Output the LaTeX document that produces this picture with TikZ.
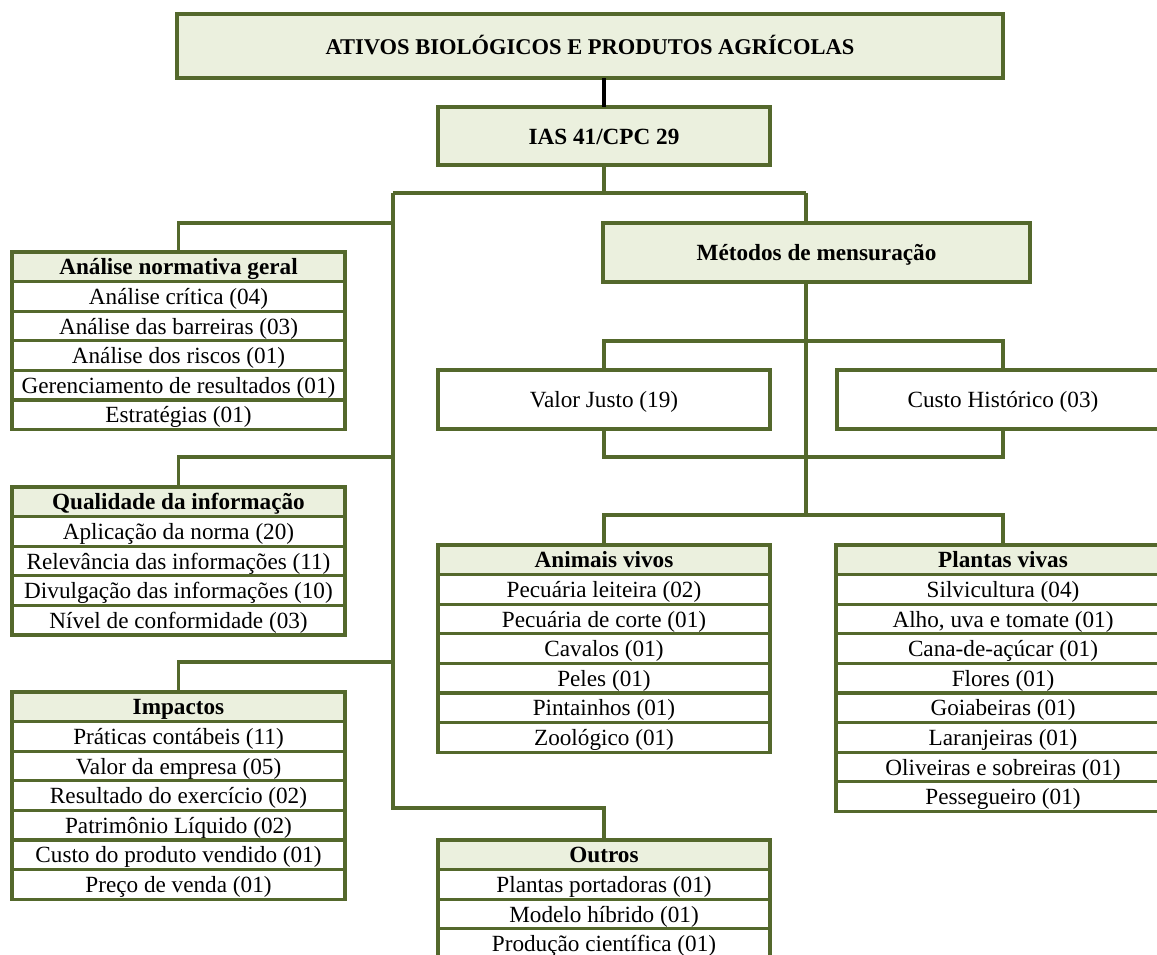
\documentclass[tikz,border=0pt]{standalone}
\usepackage{fontspec}
\setmainfont{Liberation Serif}
\definecolor{og}{RGB}{84,104,44}
\definecolor{hfill}{RGB}{235,240,222}
\newcommand\mylist[6]{%
  \node[hdr, minimum width=#4pt, anchor=north west] (#1h) at (#2,#3) {#5};
  \foreach \t [count=\i] in {#6}
    \node[row, minimum width=#4pt, anchor=north west] (#1\i) at (#2,{#3+\i*29.6}) {\t};
}
\begin{document}
\begin{tikzpicture}[x=1pt,y=-1pt,
  every node/.style={font=\fontsize{23.2}{27}\selectfont, text=black, inner sep=0pt, outer sep=0pt, text height=18.5pt, text depth=2.5pt},
  box/.style={draw=og, line width=3.2pt, fill=hfill, font=\fontsize{23.2}{27}\selectfont\bfseries},
  wbox/.style={draw=og, line width=3.2pt, fill=white},
  hdr/.style={draw=og, line width=3.2pt, fill=hfill, minimum height=29.6pt, font=\fontsize{23.2}{27}\selectfont\bfseries},
  row/.style={draw=og, line width=3.2pt, fill=white, minimum height=29.6pt},
  conn/.style={draw=og, line width=3.2pt},
]
\useasboundingbox (0,0) rectangle (1157,954);
\clip (0,0) rectangle (1157,954);

% top boxes
\node[box, minimum width=826pt, minimum height=64pt, anchor=north west, font=\fontsize{22.5}{27}\selectfont\bfseries] (top) at (177,14) {ATIVOS BIOLÓGICOS E PRODUTOS AGRÍCOLAS};
\node[box, minimum width=332pt, minimum height=58pt, anchor=north west] (ias) at (438,107) {IAS 41/CPC 29};
\node[box, minimum width=427pt, minimum height=59pt, anchor=north west] (met) at (603,223) {Métodos de mensuração};
\node[wbox, minimum width=332pt, minimum height=59pt, anchor=north west] (valor) at (438,370) {Valor Justo (19)};
\node[wbox, minimum width=332pt, minimum height=59pt, anchor=north west] (custo) at (837,370) {Custo Histórico (03)};

% lists
\mylist{an}{12}{252}{333}{Análise normativa geral}{Análise crítica (04),Análise das barreiras (03),Análise dos riscos (01),Gerenciamento de resultados (01),Estratégias (01)}
\mylist{qu}{12}{487}{333}{Qualidade da informação}{Aplicação da norma (20),Relevância das informações (11),Divulgação das informações (10),Nível de conformidade (03)}
\mylist{im}{12}{692}{333}{Impactos}{Práticas contábeis (11),Valor da empresa (05),Resultado do exercício (02),Patrimônio Líquido (02),Custo do produto vendido (01),Preço de venda (01)}
\mylist{av}{438}{545}{332}{Animais vivos}{Pecuária leiteira (02),Pecuária de corte (01),Cavalos (01),Peles (01),Pintainhos (01),Zoológico (01)}
\mylist{pv}{836}{545}{334}{Plantas vivas}{Silvicultura (04),{Alho, uva e tomate (01)},Cana-de-açúcar (01),Flores (01),Goiabeiras (01),Laranjeiras (01),Oliveiras e sobreiras (01),Pessegueiro (01)}
\mylist{ou}{438}{840}{332}{Outros}{Plantas portadoras (01),Modelo híbrido (01),Produção científica (01)}

% connectors
\coordinate (jL) at (393,193);
\coordinate (jR) at (806,193);
\coordinate (jO) at (393,808);
\draw[line width=3.2pt, black] (ias.north |- top.south) -- (ias.north);
\draw[conn] (ias.south) -- (ias.south |- jL);
\draw[conn] (jL) -- (jR);
\draw[conn] (jR) -- (jR |- met.north);
\draw[conn] (jL) -- (jO) -| (ouh.north);
\draw[conn] (jL |- 0,223) -| (anh.north);
\draw[conn] (jL |- 0,457) -| (quh.north);
\draw[conn] (jL |- 0,662) -| (imh.north);
\draw[conn] (valor.north) -- ++(0,-29) -| (custo.north);
\draw[conn] (valor.south) -- ++(0,28) -| (custo.south);
\draw[conn] (jR |- met.south) -- (jR |- 0,515);
\draw[conn] (avh.north) -- ++(0,-30) -| (pvh.north);
\end{tikzpicture}
\end{document}
